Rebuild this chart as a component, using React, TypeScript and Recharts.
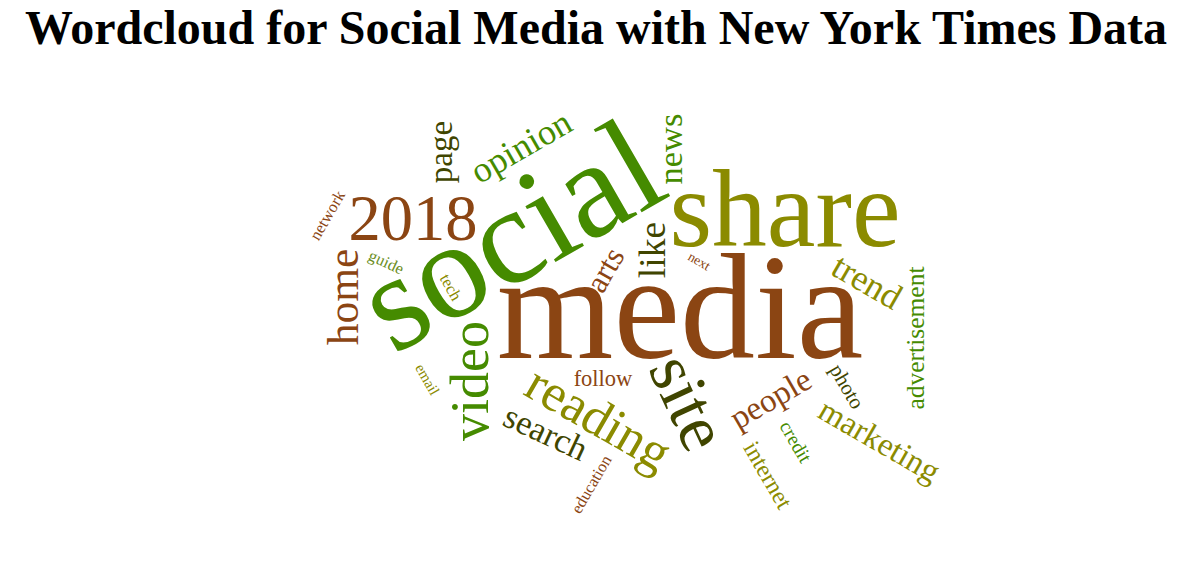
import React from "react";
import { ScatterChart, Scatter, XAxis, YAxis } from "recharts";

const WIDTH = 1203;
const HEIGHT = 562;

// words and their weights (font size = weight * SIZE_FACTOR)
const words = [
  "media", "social", "share", "2018", "site", "reading", "video", "home", "like",
  "trend", "opinion", "news", "search", "page", "people", "marketing", "arts",
  "advertisement", "internet", "follow", "photo", "credit", "tech", "network",
  "guide", "education", "email", "next",
];
const weights = [
  100, 92, 73, 43, 46, 35, 36, 29, 25,
  24, 24, 23, 23, 22, 22, 22, 21,
  17, 16, 15, 14, 13, 11, 11,
  11, 11, 10, 9,
];

// cloud layout: baseline midpoint of each word (layout units) and rotation
const layoutX = [
  680, 533, 785, 413, 668, 590, 488, 358, 665,
  861, 527, 682, 541, 452, 776, 874, 614,
  924, 761, 603, 841, 790, 446, 332,
  384, 596, 423, 697,
];
const layoutY = [
  358, 275, 246, 240, 412, 433, 381, 297, 250,
  292, 157, 149, 443, 152, 408, 450, 275,
  338, 479, 386, 390, 445, 290, 218,
  267, 487, 382, 265,
];
const angles = [
  0, -30, 0, 0, 65, 30, -90, -90, -90,
  30, -30, -90, 25, -90, -30, 30, -60,
  -90, 60, 0, 60, 60, 60, -60,
  25, -60, 60, 30,
];
const tones = [
  "brown", "green", "olive", "brown", "dark", "olive", "green", "brown", "dark",
  "olive", "green", "green", "dark", "dark", "brown", "olive", "brown",
  "green", "olive", "brown", "dark", "green", "olive", "brown",
  "drab", "brown", "olive", "brown",
];

const PALETTE: Record<string, string> = {
  brown: "#8B4513",
  green: "#458B00",
  olive: "#8B8B00",
  dark: "#404500",
  drab: "#6B8E23",
};

const SIZE_FACTOR = 1.5;
const FONT = "'Times New Roman', 'Liberation Serif', serif";

const cloudData = words.map((word, i) => ({
  word,
  weight: weights[i],
  x: layoutX[i],
  y: layoutY[i],
  angle: angles[i],
  tone: tones[i],
}));

function WordShape(props: any) {
  const { cx, cy, payload } = props;
  if (cx == null || cy == null) return null;
  return (
    <text
      x={cx}
      y={cy}
      textAnchor="middle"
      fontFamily={FONT}
      fontSize={payload.weight * SIZE_FACTOR}
      fill={PALETTE[payload.tone]}
      transform={`rotate(${payload.angle} ${cx} ${cy})`}
    >
      {payload.word}
    </text>
  );
}

export default function App() {
  return (
    <div style={{ position: "absolute", left: 0, top: 0, width: WIDTH, height: HEIGHT, background: "#fff" }}>
      <div
        style={{
          position: "absolute",
          left: 0,
          top: 4,
          width: 1192,
          textAlign: "center",
          fontFamily: FONT,
          fontWeight: "bold",
          fontSize: 48,
          lineHeight: "48px",
          color: "#000",
          whiteSpace: "nowrap",
        }}
      >
        Wordcloud for Social Media with New York Times Data
      </div>
      <ScatterChart width={WIDTH} height={HEIGHT} margin={{ top: 0, right: 0, bottom: 0, left: 0 }}>
        <XAxis type="number" dataKey="x" domain={[0, WIDTH]} hide />
        <YAxis type="number" dataKey="y" domain={[0, HEIGHT]} reversed hide />
        <Scatter data={cloudData} shape={WordShape} isAnimationActive={false} />
      </ScatterChart>
    </div>
  );
}
